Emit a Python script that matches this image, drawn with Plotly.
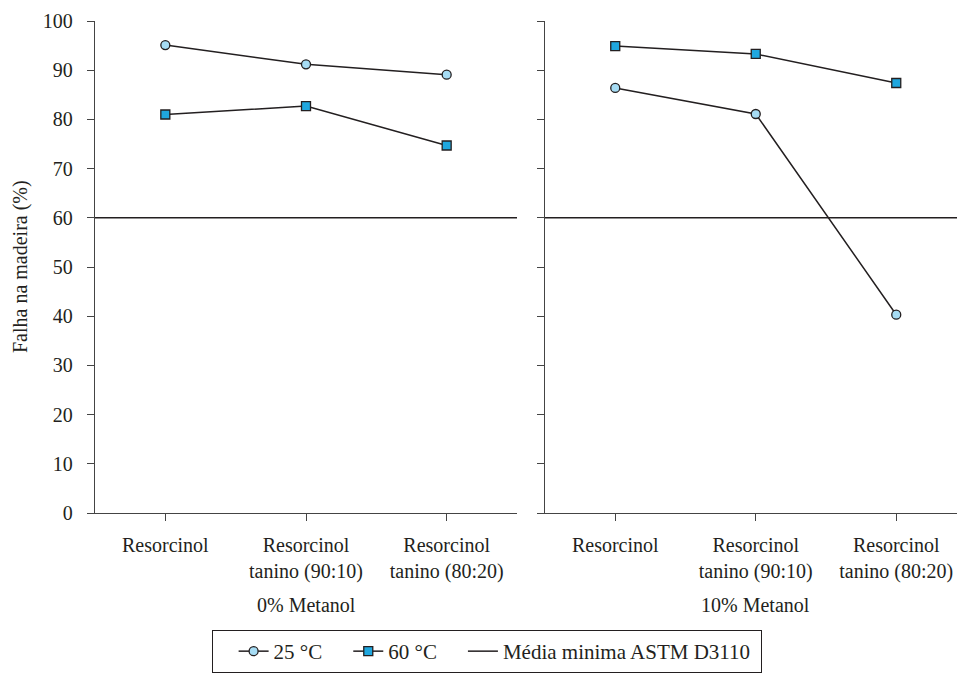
import plotly.graph_objects as go

# Wood failure (%) by adhesive formulation, two methanol contents
categories = ["Resorcinol", "Resorcinol<br>tanino (90:10)", "Resorcinol<br>tanino (80:20)"]
panels = ["0% Metanol", "10% Metanol"]

t25_met0 = [95.1, 91.2, 89.1]
t60_met0 = [81.0, 82.7, 74.7]
t25_met10 = [86.4, 81.1, 40.3]
t60_met10 = [94.9, 93.3, 87.4]

astm_min = 60
y_ticks = [0, 10, 20, 30, 40, 50, 60, 70, 80, 90, 100]

FONT = "Liberation Serif"
INK = "#231f20"
C25 = "#a6dcf4"
C60 = "#1fa7df"
NB = "\u00a0"

W, H = 957, 673
ML, MR, MT, MB = 0, 0, 21, 160
xpos = list(range(len(categories)))

fig = go.Figure()

def add_panel(xa, ya, s25, s60, show):
    fig.add_trace(go.Scatter(
        x=xpos, y=s25, mode="lines+markers", name="25 °C" + NB * 4,
        line=dict(color=INK, width=1.5),
        marker=dict(symbol="circle", size=9, color=C25, line=dict(color=INK, width=1.3)),
        xaxis=xa, yaxis=ya, showlegend=show, legendrank=1))
    fig.add_trace(go.Scatter(
        x=xpos, y=s60, mode="lines+markers", name="60 °C" + NB * 4,
        line=dict(color=INK, width=1.5),
        marker=dict(symbol="square", size=9, color=C60, line=dict(color=INK, width=1.3)),
        xaxis=xa, yaxis=ya, showlegend=show, legendrank=2))
    fig.add_trace(go.Scatter(
        x=[-0.5, 2.5], y=[astm_min, astm_min], mode="lines",
        name="Média minima ASTM D3110" + NB,
        line=dict(color=INK, width=1.5),
        xaxis=xa, yaxis=ya, showlegend=show, legendrank=3))

add_panel("x", "y", t25_met0, t60_met0, True)
add_panel("x2", "y2", t25_met10, t60_met10, False)

axis_font = dict(family=FONT, size=20, color=INK)
legend_font = dict(family=FONT, size=21, color=INK)
common_x = dict(tickmode="array", tickvals=xpos, ticktext=categories,
                ticks="outside", ticklen=7, tickwidth=1.3, tickcolor="#444",
                ticklabelstandoff=7,
                showline=True, linecolor="#444", linewidth=1.3,
                showgrid=False, zeroline=False, tickfont=axis_font)
common_y = dict(range=[0, 100], tickvals=y_ticks, ticks="outside", ticklen=7,
                tickwidth=1.3, tickcolor="#444", showline=True, linecolor="#444",
                linewidth=1.3, showgrid=False, zeroline=False, tickfont=axis_font,
                ticklabelstandoff=10)

left0, left1 = 95 / W, 517 / W
right0 = 545 / W
pw = 140.5  # pixels per category step
right_max = -0.5 + (W - 545) / pw

fig.update_layout(
    width=W, height=H,
    margin=dict(l=ML, r=MR, t=MT, b=MB),
    paper_bgcolor="white", plot_bgcolor="white",
    font=axis_font,
    xaxis=dict(domain=[left0, left1], range=[-0.5, 2.5], **common_x),
    xaxis2=dict(domain=[right0, 1.0], range=[-0.5, right_max], anchor="y2", **common_x),
    yaxis=dict(anchor="x", **common_y),
    yaxis2=dict(anchor="x2", showticklabels=False, **common_y),
    legend=dict(orientation="h", x=0.509, xanchor="center", y=-0.238, yanchor="top",
                bordercolor=INK, borderwidth=1, bgcolor="white",
                title=dict(text=NB * 2, side="left", font=legend_font),
                font=legend_font, traceorder="normal"),
    showlegend=True,
)

plot_h = H - MT - MB
fig.add_annotation(text=panels[0], x=1, xref="x", y=-(605 - (H - MB)) / plot_h, yref="paper",
                   showarrow=False, font=axis_font, yanchor="middle")
fig.add_annotation(text=panels[1], x=1, xref="x2", y=-(605 - (H - MB)) / plot_h, yref="paper",
                   showarrow=False, font=axis_font, yanchor="middle")
fig.add_annotation(text="Falha na madeira (%)", textangle=-90, x=20 / W, xref="paper",
                   xanchor="center", y=0.5, yref="paper", showarrow=False, font=axis_font)

fig.write_html("out.html")
